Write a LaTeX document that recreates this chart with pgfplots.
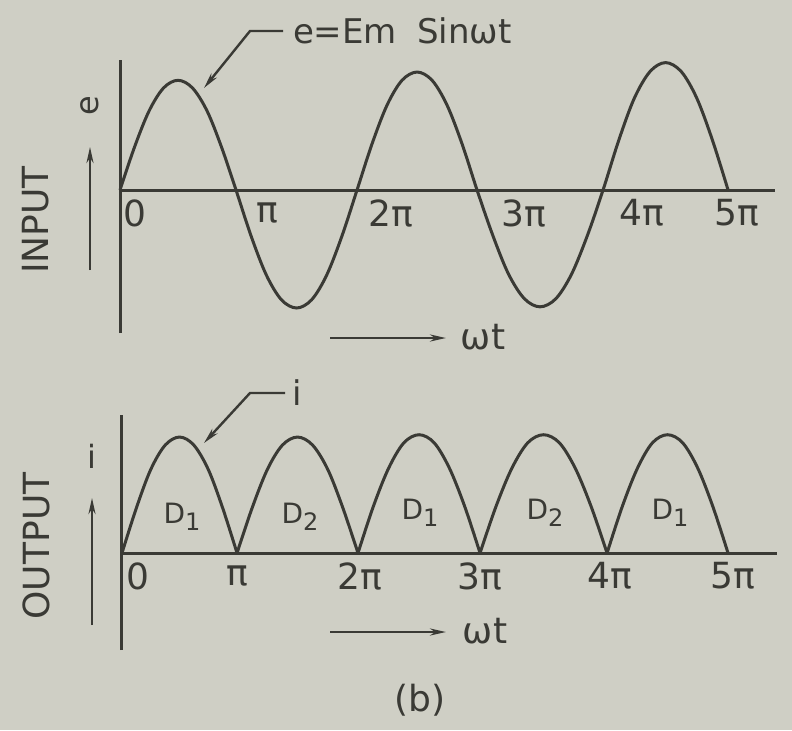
\documentclass[border=0pt]{standalone}
\usepackage{pgfplots}
\pgfplotsset{compat=1.18}
\usepackage{fontspec}
\setmainfont{DejaVu Sans}
\usetikzlibrary{arrows.meta}

\definecolor{paper}{HTML}{CFCFC5}
\definecolor{ink}{HTML}{3A3A35}
\newcommand\lbl{\fontsize{18}{20}\selectfont}
\newcommand\dl[1]{\fontsize{14}{16}\selectfont D\raisebox{-3.5pt}{\fontsize{12}{14}\selectfont #1}}

\begin{document}
\begin{tikzpicture}[x=0.5pt, y=-0.5pt]
  % page background, 792 x 730 px (1 px = 0.5pt)
  \fill[paper] (0,0) rectangle (792,730);

  \pgfplotsset{
    wave/.style={
      scale only axis, anchor=north west,
      axis lines=middle,
      axis line style={-, draw=ink, line width=1.5pt},
      ytick=\empty, major tick length=0pt,
      xticklabel style={anchor=center, yshift=-11.5pt, font=\lbl, text=ink},
      clip=false,
    },
    trace/.style={draw=ink, line width=1.5pt, smooth, tension=0.55, mark=none},
  }

  % --- INPUT: e = Em sin wt ---
  \begin{axis}[wave,
      at={(60pt,-30pt)}, width=327.5pt, height=136.5pt,
      xmin=0, xmax=5.386, ymin=-1.212, ymax=1.102,
      xtick={0.123,1.209,2.229,3.322,4.293,5.074},
      xticklabels={0,π,2π,3π,4π,5π},
  ]
  \addplot[trace] coordinates {
    (0,0) (0.119,0.363) (0.239,0.670) (0.358,0.865) (0.477,0.93)
    (0.596,0.865) (0.716,0.670) (0.835,0.363) (0.954,0)
    (1.078,-0.39) (1.203,-0.72) (1.327,-0.93) (1.452,-1.0)
    (1.576,-0.93) (1.700,-0.72) (1.825,-0.39) (1.949,0)
    (2.072,0.39) (2.196,0.72) (2.319,0.93) (2.443,1.0)
    (2.566,0.93) (2.689,0.72) (2.813,0.39) (2.936,0)
    (3.066,-0.386) (3.195,-0.713) (3.325,-0.921) (3.454,-0.99)
    (3.584,-0.921) (3.713,-0.713) (3.843,-0.386) (3.972,0)
    (4.101,0.421) (4.229,0.778) (4.358,1.004) (4.486,1.08)
    (4.615,1.004) (4.743,0.778) (4.872,0.421) (5.0,0)
  };
  \end{axis}

  % --- OUTPUT: full-wave rectified current ---
  \begin{axis}[wave,
      at={(61pt,-207.5pt)}, width=327.5pt, height=117.5pt,
      xmin=0, xmax=5.404, ymin=-0.836, ymax=1.19,
      xtick={0.132,0.949,1.964,2.954,4.026,5.041},
      xticklabels={0,π,2π,3π,4π,5π},
  ]
  \addplot[trace] coordinates {(0,0) (0.119,0.39) (0.237,0.72) (0.356,0.93) (0.475,1.0)
    (0.593,0.93) (0.712,0.72) (0.830,0.39) (0.949,0)};
  \addplot[trace] coordinates {(0.949,0) (1.074,0.39) (1.199,0.72) (1.323,0.93) (1.448,1.0)
    (1.573,0.93) (1.698,0.72) (1.822,0.39) (1.947,0)};
  \addplot[trace] coordinates {(1.947,0) (2.073,0.40) (2.199,0.73) (2.325,0.95) (2.451,1.02)
    (2.576,0.95) (2.702,0.73) (2.828,0.40) (2.954,0)};
  \addplot[trace] coordinates {(2.954,0) (3.085,0.40) (3.216,0.73) (3.347,0.95) (3.478,1.02)
    (3.609,0.95) (3.740,0.73) (3.871,0.40) (4.002,0)};
  \addplot[trace] coordinates {(4.002,0) (4.127,0.40) (4.252,0.73) (4.376,0.95) (4.501,1.02)
    (4.626,0.95) (4.751,0.73) (4.875,0.40) (5.0,0)};

  \node[text=ink] at (axis cs:0.495,0.31) {\dl{1}};
  \node[text=ink] at (axis cs:1.469,0.31) {\dl{2}};
  \node[text=ink] at (axis cs:2.459,0.345) {\dl{1}};
  \node[text=ink] at (axis cs:3.490,0.345) {\dl{2}};
  \node[text=ink] at (axis cs:4.521,0.345) {\dl{1}};
  \end{axis}

  % --- labels, arrows and leaders (px coordinates) ---
  \tikzset{lead/.style={ink, line width=1.2pt, -{Stealth[length=8pt, width=3.5pt]}}}

  \node[text=ink, font=\lbl, rotate=90] at (36,220) {INPUT};
  \node[text=ink, font=\lbl, rotate=90] at (36,546) {OUTPUT};

  \draw[lead] (90,270) -- (90,147);
  \node[text=ink, font=\fontsize{16}{18}\selectfont, rotate=90] at (90,106) {e};
  \draw[lead] (92,625) -- (92,498);
  \node[text=ink, font=\fontsize{16}{18}\selectfont] at (92,456) {i};

  \draw[lead] (330,338) -- (446,338);
  \node[text=ink, font=\lbl] at (483,337) {ωt};
  \draw[lead] (330,632) -- (446,632);
  \node[text=ink, font=\lbl] at (485,631) {ωt};

  \draw[lead] (283,31) -- (250,31) -- (204,88);
  \node[text=ink, font=\fontsize{17}{19}\selectfont, anchor=west] at (286,31)
    {e=Em\hspace{10pt}Sinωt};
  \draw[lead] (285,393) -- (250,393) -- (204,443);
  \node[text=ink, font=\fontsize{17}{19}\selectfont] at (297,393) {i};

  \node[text=ink, font=\lbl] at (420,700) {(b)};
\end{tikzpicture}
\end{document}
